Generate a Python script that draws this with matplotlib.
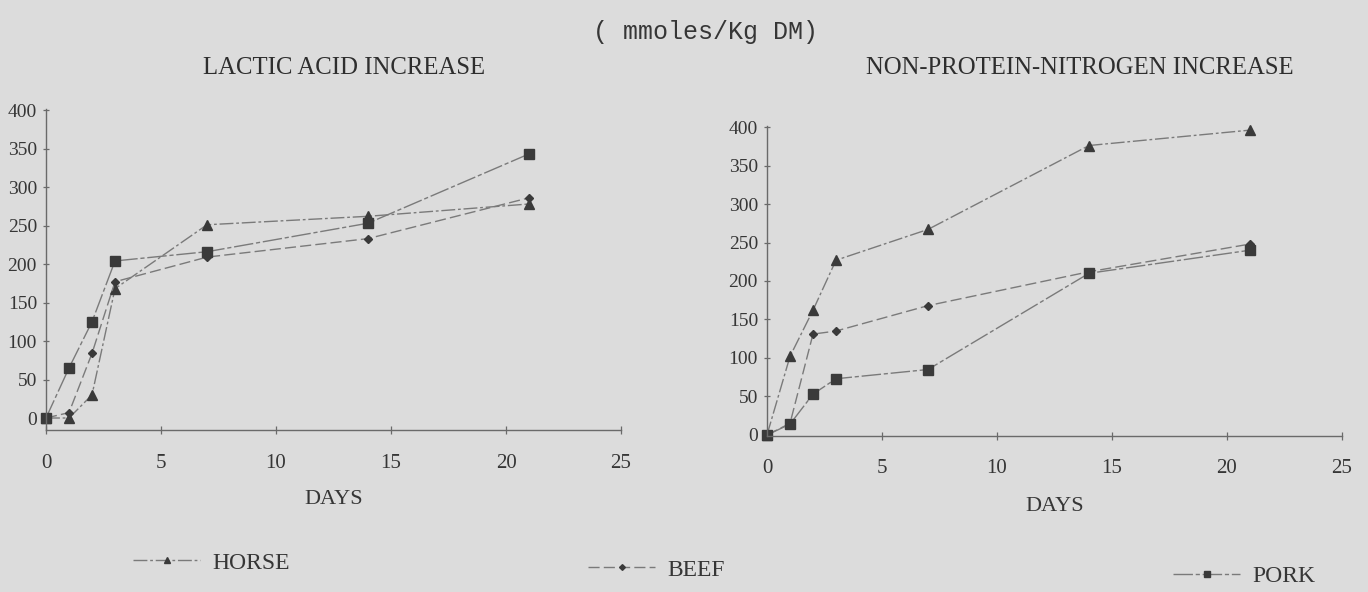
import matplotlib
matplotlib.use("Agg")
import matplotlib.pyplot as plt

# sampling days and values (mmoles/Kg DM)
days = [0, 1, 2, 3, 7, 14, 21]

lactic_horse = [0, 0, 30, 168, 251, 262, 278]
lactic_beef = [0, 7, 84, 177, 209, 233, 286]
lactic_pork = [0, 65, 125, 204, 216, 253, 343]

npn_horse = [0, 102, 162, 227, 267, 376, 396]
npn_beef = [0, 15, 131, 135, 168, 212, 248]
npn_pork = [0, 14, 53, 73, 85, 210, 240]

x_ticks = [0, 5, 10, 15, 20, 25]
y_ticks = [0, 50, 100, 150, 200, 250, 300, 350, 400]

PAPER = "#dcdcdc"
INK = "#363636"
LINE = "#7a7a7a"
MARK = "#3a3a3a"
SERIF = "Liberation Serif"

series_style = {
    "HORSE": dict(marker="^", markersize=6.5, linestyle=(0, (10, 2, 2, 2))),
    "BEEF": dict(marker="D", markersize=4.5, linestyle=(0, (8, 3))),
    "PORK": dict(marker="s", markersize=6.5, linestyle=(0, (14, 2, 3, 2))),
}


def draw_panel(ax, values, ylim, xpad, labelpad):
    handles = []
    for name, vals in values:
        (ln,) = ax.plot(days, vals, color=LINE, lw=1.0, markerfacecolor=MARK,
                        markeredgecolor=MARK, clip_on=False, label=name,
                        **series_style[name])
        handles.append(ln)
    ax.set_xlim(0, 25)
    ax.set_ylim(*ylim)
    ax.set_xticks(x_ticks)
    ax.set_yticks(y_ticks)
    ax.set_facecolor("none")
    for side in ("top", "right"):
        ax.spines[side].set_visible(False)
    for side in ("left", "bottom"):
        ax.spines[side].set_color("#6a6a6a")
        ax.spines[side].set_linewidth(1.0)
    ax.tick_params(axis="x", direction="inout", length=6, width=0.9,
                   color="#6a6a6a", pad=xpad, labelsize=15, labelcolor=INK)
    ax.tick_params(axis="y", direction="inout", length=5, width=0.9,
                   color="#6a6a6a", pad=4, labelsize=14, labelcolor=INK)
    for lab in ax.get_xticklabels() + ax.get_yticklabels():
        lab.set_fontfamily(SERIF)
    ax.set_xlabel("DAYS", fontsize=16, fontfamily=SERIF, color=INK,
                  labelpad=labelpad)
    return handles


fig = plt.figure(figsize=(13.68, 5.92), dpi=100, facecolor=PAPER)

ax_lactic = fig.add_axes([0.03363, 0.2731, 0.42032, 0.5436])
ax_npn = fig.add_axes([0.56067, 0.2627, 0.42032, 0.5253])

handles = draw_panel(ax_lactic,
                     [("HORSE", lactic_horse), ("BEEF", lactic_beef),
                      ("PORK", lactic_pork)],
                     (-16, 402), xpad=14, labelpad=12)
draw_panel(ax_npn,
           [("HORSE", npn_horse), ("BEEF", npn_beef), ("PORK", npn_pork)],
           (-2, 402), xpad=13, labelpad=14)

fig.text(0.5155, 0.946, "( mmoles/Kg DM)", fontsize=18,
         fontfamily="Liberation Mono", color=INK, ha="center", va="center")
fig.text(0.2515, 0.885, "LACTIC ACID INCREASE", fontsize=17.8,
         fontfamily=SERIF, color="#2e2e2e", ha="center", va="center")
fig.text(0.7895, 0.885, "NON-PROTEIN-NITROGEN INCREASE", fontsize=17.8,
         fontfamily=SERIF, color="#2e2e2e", ha="center", va="center")

# three separate legend entries spread along the bottom
legend_spots = [(0.0972, 0.049), (0.4298, 0.0372), (0.8575, 0.027)]
for h, (lx, ly) in zip(handles, legend_spots):
    fig.legend(handles=[h], labels=[h.get_label()], loc="center left",
               bbox_to_anchor=(lx, ly), frameon=False, handlelength=2.85,
               handletextpad=0.5, borderpad=0, borderaxespad=0,
               markerscale=0.65, prop={"family": SERIF, "size": 17},
               labelcolor=INK)

fig.savefig("out.png", dpi=100, facecolor=PAPER)
